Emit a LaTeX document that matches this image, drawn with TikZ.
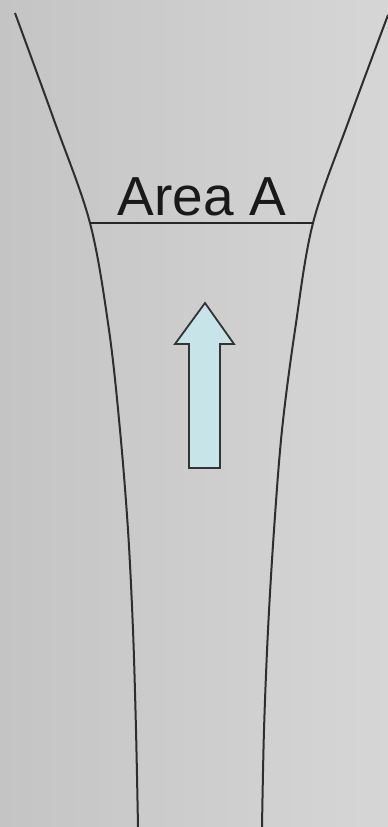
\documentclass[tikz,border=0pt]{standalone}
\usepackage{fontspec}
\setmainfont{Liberation Sans}
\begin{document}
\begin{tikzpicture}[x=1pt,y=-1pt,
  wall/.style={draw=black!82,line width=2pt},
  flowarrow/.style={draw=black!80,line width=1.8pt,line join=miter}]
\definecolor{bgl}{HTML}{C4C4C4}
\definecolor{bgr}{HTML}{D6D6D6}
\definecolor{arrfill}{HTML}{C7E5E9}
\useasboundingbox (0,0) rectangle (388,827);
\shade[left color=bgl,right color=bgr] (0,0) rectangle (388,827);
\draw[wall] plot[smooth,tension=0.55] coordinates {(15,13) (54,120) (90,223) (109,330) (120,430) (128,530) (133,630) (136,730) (138,827)};
\draw[wall] plot[smooth,tension=0.55] coordinates {(388,15) (349,120) (313,223) (295,330) (282,430) (274,530) (268,630) (264,730) (262,827)};
\coordinate (la) at (90,223);
\coordinate (ra) at (313,223);
\draw[draw=black!85,line width=1.6pt] (la) -- (ra);
\node[anchor=base,inner sep=0pt,font=\fontsize{55}{62}\selectfont,text=black!90] (lbl) at (202,215) {Area A};
\draw[flowarrow,fill=arrfill] (205,303) -- (234,344) -- (220,344) -- (220,468) -- (189,468) -- (189,344) -- (175,344) -- cycle;
\end{tikzpicture}
\end{document}
